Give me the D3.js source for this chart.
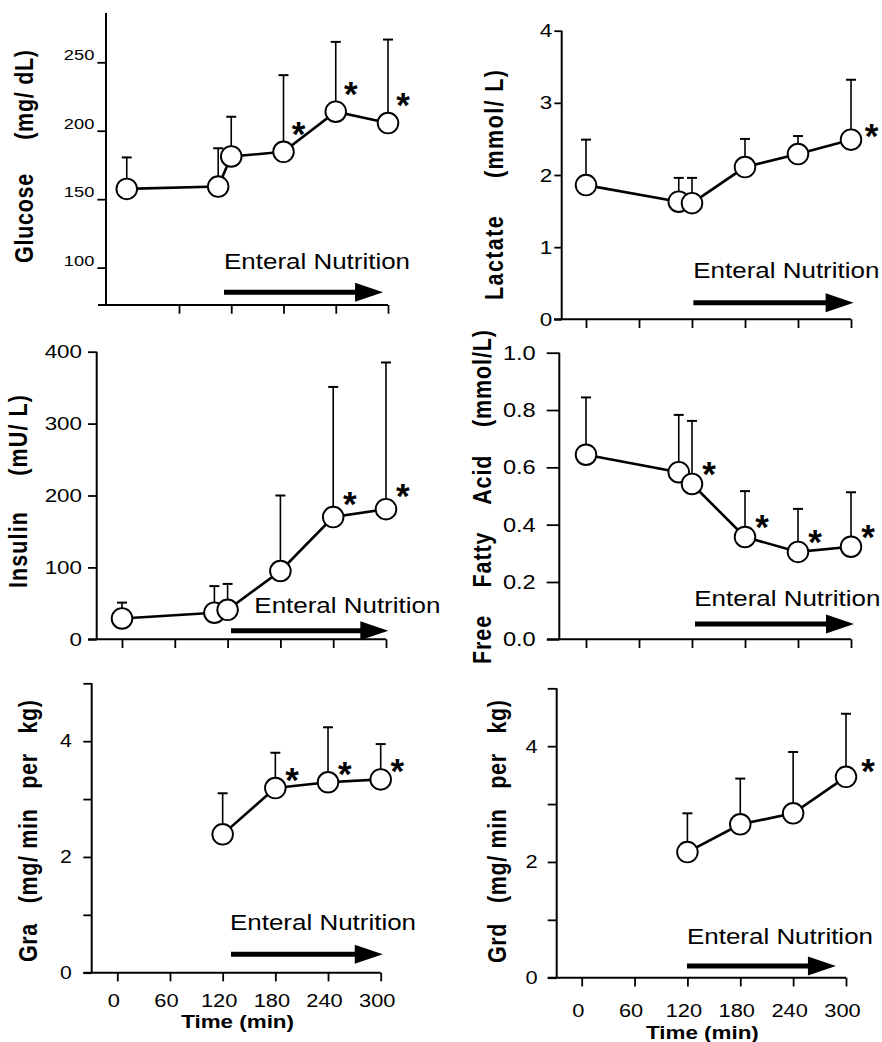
<!DOCTYPE html>
<html>
<head>
<meta charset="utf-8">
<script src="https://cdn.jsdelivr.net/npm/d3@7"></script>
<style>
  body { margin: 0; background: #fff; }
  svg { display: block; font-family: "Liberation Sans", Arial, Helvetica, sans-serif; }
</style>
</head>
<body>
<svg id="fig" width="882" height="1042"></svg>
<script>
// sampling times (min)
var timeFull = [0, 105, 120, 180, 240, 300];
var timeClamp = [120, 180, 240, 300];
var timeTicks = [0, 60, 120, 180, 240, 300];

// mean, upper SD, significance (1 = *)
var glucoseMean = [157.5, 159.2, 181.2, 184.6, 213.9, 205.6];
var glucoseSD   = [23, 28, 29, 56, 51, 61];
var glucoseSig  = [0, 0, 0, 1, 1, 1];

var lactateMean = [1.86, 1.63, 1.61, 2.11, 2.29, 2.49];
var lactateSD   = [0.63, 0.33, 0.35, 0.39, 0.25, 0.83];
var lactateSig  = [0, 0, 0, 0, 0, 1];

var insulinMean = [29, 37, 41, 95, 170, 181];
var insulinSD   = [22, 37, 36, 105, 181, 204];
var insulinSig  = [0, 0, 0, 0, 1, 1];

var ffaMean = [0.644, 0.583, 0.542, 0.357, 0.305, 0.323];
var ffaSD   = [0.20, 0.20, 0.22, 0.16, 0.15, 0.19];
var ffaSig  = [0, 0, 1, 1, 1, 1];

var graMean = [2.39, 3.19, 3.29, 3.34];
var graSD   = [0.71, 0.61, 0.95, 0.61];
var graSig  = [0, 1, 1, 1];

var grdMean = [2.17, 2.65, 2.84, 3.47];
var grdSD   = [0.67, 0.79, 1.06, 1.09];
var grdSig  = [0, 0, 0, 1];

var ARROW_TEXT = "Enteral Nutrition";
var TIME_TITLE = "Time (min)";

var panels = [
  { label: "Glucose     (mg/ dL)", t: timeFull, mean: glucoseMean, sd: glucoseSD, sig: glucoseSig,
    yDomain: [72.7, 286], yTicks: [100, 150, 200, 250], yFmt: d3.format("d"),
    xTicks: [60, 120, 180, 240, 300], showX: false },
  { label: "Lactate     (mmol/ L)", t: timeFull, mean: lactateMean, sd: lactateSD, sig: lactateSig,
    yDomain: [0, 4], yTicks: [0, 1, 2, 3, 4], yFmt: d3.format("d"),
    xTicks: timeTicks, showX: false },
  { label: "Insulin     (mU/ L)", t: timeFull, mean: insulinMean, sd: insulinSD, sig: insulinSig,
    yDomain: [0, 400], yTicks: [0, 100, 200, 300, 400], yFmt: d3.format("d"),
    xTicks: timeTicks, showX: false },
  { label: "Free    Fatty    Acid    (mmol/L)", t: timeFull, mean: ffaMean, sd: ffaSD, sig: ffaSig,
    yDomain: [0, 1], yTicks: [0, 0.2, 0.4, 0.6, 0.8, 1.0], yFmt: d3.format(".1f"),
    xTicks: timeTicks, showX: false },
  { label: "Gra   (mg/ min   per   kg)", t: timeClamp, mean: graMean, sd: graSD, sig: graSig,
    yDomain: [0, 5], yTicks: [0, 1, 2, 3, 4, 5], yFmt: function(d) { return d % 2 === 0 ? d : ""; },
    xTicks: timeTicks, showX: true },
  { label: "Grd   (mg/ min   per   kg)", t: timeClamp, mean: grdMean, sd: grdSD, sig: grdSig,
    yDomain: [0, 5], yTicks: [0, 1, 2, 3, 4, 5], yFmt: function(d) { return d % 2 === 0 ? d : ""; },
    xTicks: timeTicks, showX: true }
];

// page layout of each panel
var layout = [
  { x0: 126.75, x300: 388, axisX: 106, lineStart: 98, yBottom: 305, yTop: 13,
    tickLen: 8.7, tickPad: 3, tickFont: 15.5, tickDy: -2.5,
    labelX: 33, labelCY: 156.5, labelLen: 213,
    arrowT: [111.7, 294.3], arrowLift: 12.7, textLift: 23.3, textDx: 0, starDx: 15, starDy: -26 },
  { x0: 586, x300: 851, axisX: 561.7, lineStart: 554, yBottom: 319.3, yTop: 30.7,
    tickLen: 7.4, tickPad: 2, tickFont: 19, tickDy: null,
    labelX: 502.7, labelCY: 185, labelLen: 230,
    arrowT: [121.5, 303], arrowLift: 16.6, textLift: 24.4, textDx: 0, starDx: 20.6, starDy: -12 },
  { x0: 122, x300: 386, axisX: 96.7, lineStart: 88, yBottom: 639.3, yTop: 351.7,
    tickLen: 8.7, tickPad: 6, tickFont: 19, tickDy: null,
    labelX: 26.7, labelCY: 491.5, labelLen: 193,
    arrowT: [123.9, 302.6], arrowLift: 8.6, textLift: 17.4, textDx: 23.3, starDx: 16.7, starDy: -21 },
  { x0: 586, x300: 851, axisX: 559.3, lineStart: 547, yBottom: 639.3, yTop: 352.7,
    tickLen: 12.6, tickPad: 11, tickFont: 20, tickDy: null,
    labelX: 491, labelCY: 497, labelLen: 334,
    arrowT: [123.4, 303.4], arrowLift: 15.3, textLift: 18, textDx: -0.7, starDx: 17, starDy: -18 },
  { x0: 117.3, x300: 380.7, axisX: 91.7, lineStart: 83.3, yBottom: 972.7, yTop: 683.3,
    tickLen: 8.4, tickPad: 11.6, tickFont: 18, tickDy: null,
    labelX: 37.3, labelCY: 831, labelLen: 262,
    arrowT: [129.5, 302.3], arrowLift: 18.4, textLift: 24.3, textDx: -1, starDx: 16.7, starDy: -16,
    xLabelBase: 34, timeBase: 55.3 },
  { x0: 581.7, x300: 846, axisX: 556.7, lineStart: 547.7, yBottom: 977.7, yTop: 688.3,
    tickLen: 9, tickPad: 10, tickFont: 18.5, tickDy: null,
    labelX: 506, labelCY: 831.5, labelLen: 263,
    arrowT: [119.5, 288.6], arrowLift: 11.7, textLift: 22, textDx: 0, starDx: 22, starDy: -14,
    xLabelBase: 39, timeBase: 61.3 }
];

var STRETCH = 1.18;
var FONT = '"Liberation Sans", Arial, Helvetica, sans-serif';
var svg = d3.select("#fig");

// the scanned figure is wider than tall: stretch text sideways round its anchor
function stretchAt(sel) {
  sel.attr("transform", function() {
    var x = +d3.select(this).attr("x") || 0;
    return "translate(" + x + ",0) scale(" + STRETCH + ",1) translate(" + (-x) + ",0)";
  });
}

function drawPanel(p, L) {
  var x = d3.scaleLinear().domain([0, 300]).range([L.x0, L.x300]);
  var y = d3.scaleLinear().domain(p.yDomain).range([L.yBottom, L.yTop]);
  var g = svg.append("g");

  // y axis
  var ya = g.append("g")
    .attr("transform", "translate(" + L.axisX + ",0)")
    .call(d3.axisLeft(y).tickValues(p.yTicks).tickFormat(p.yFmt)
      .tickSize(L.tickLen).tickPadding(L.tickPad));
  ya.attr("font-family", FONT).attr("font-size", L.tickFont);
  ya.select(".domain").remove();
  ya.selectAll("line").attr("stroke", "#000").attr("stroke-width", 1.8);
  ya.selectAll("text").attr("fill", "#000");
  if (L.tickDy !== null) ya.selectAll("text").attr("dy", L.tickDy);
  stretchAt(ya.selectAll("text"));

  g.append("line")
    .attr("x1", L.axisX).attr("x2", L.axisX)
    .attr("y1", y(p.yDomain[1])).attr("y2", y(p.yDomain[0]))
    .attr("stroke", "#000").attr("stroke-width", 2);

  // x axis
  var xa = g.append("g")
    .attr("transform", "translate(0," + L.yBottom + ")")
    .call(d3.axisBottom(x).tickValues(p.xTicks).tickSize(8.7)
      .tickFormat(p.showX ? d3.format("d") : function() { return ""; }));
  xa.attr("font-family", FONT).attr("font-size", 18.5);
  xa.select(".domain").remove();
  xa.selectAll("line").attr("stroke", "#000").attr("stroke-width", 1.8);
  if (p.showX) {
    xa.selectAll("text")
      .attr("fill", "#000").attr("y", L.xLabelBase).attr("dy", 0)
      .attr("x", -4);
    stretchAt(xa.selectAll("text"));
  }

  g.append("line")
    .attr("x1", L.lineStart).attr("x2", x(300))
    .attr("y1", L.yBottom).attr("y2", L.yBottom)
    .attr("stroke", "#000").attr("stroke-width", 2);

  var pts = p.t.map(function(t, i) {
    return { t: t, m: p.mean[i], sd: p.sd[i], sig: p.sig[i] };
  });

  // error bars (upper only)
  var eb = g.append("g").attr("stroke", "#000");
  eb.selectAll("line.v").data(pts).enter().append("line")
    .attr("class", "v")
    .attr("x1", function(d) { return x(d.t); }).attr("x2", function(d) { return x(d.t); })
    .attr("y1", function(d) { return y(d.m); }).attr("y2", function(d) { return y(d.m + d.sd); })
    .attr("stroke-width", 1.6);
  eb.selectAll("line.c").data(pts).enter().append("line")
    .attr("class", "c")
    .attr("x1", function(d) { return x(d.t) - 5; }).attr("x2", function(d) { return x(d.t) + 5; })
    .attr("y1", function(d) { return y(d.m + d.sd); }).attr("y2", function(d) { return y(d.m + d.sd); })
    .attr("stroke-width", 2);

  // mean line
  var line = d3.line()
    .x(function(d) { return x(d.t); })
    .y(function(d) { return y(d.m); });
  g.append("path").datum(pts)
    .attr("d", line).attr("fill", "none")
    .attr("stroke", "#000").attr("stroke-width", 2.6);

  g.selectAll("circle").data(pts).enter().append("circle")
    .attr("cx", function(d) { return x(d.t); })
    .attr("cy", function(d) { return y(d.m); })
    .attr("r", 10.3)
    .attr("fill", "#fff").attr("stroke", "#000").attr("stroke-width", 1.9);

  // significance stars
  g.selectAll("text.star").data(pts.filter(function(d) { return d.sig; })).enter()
    .append("text").attr("class", "star")
    .attr("x", function(d) { return x(d.t) + L.starDx; })
    .attr("y", function(d) { return y(d.m) + L.starDy; })
    .attr("dy", "0.57em")
    .attr("text-anchor", "middle")
    .attr("font-size", 35).attr("font-weight", "bold")
    .text("*");

  // enteral nutrition arrow
  var ay = L.yBottom - L.arrowLift;
  var ax0 = x(L.arrowT[0]), ax1 = x(L.arrowT[1]);
  g.append("line")
    .attr("x1", ax0).attr("x2", ax1 - 20)
    .attr("y1", ay).attr("y2", ay)
    .attr("stroke", "#000").attr("stroke-width", 5);
  g.append("path")
    .attr("d", "M" + (ax1 - 28) + "," + (ay - 9.5) + "L" + ax1 + "," + ay + "L" + (ax1 - 28) + "," + (ay + 9.5) + "Z")
    .attr("fill", "#000");
  var et = g.append("text")
    .attr("x", ax0 + L.textDx).attr("y", ay - L.textLift)
    .attr("font-size", 22).attr("fill", "#000")
    .text(ARROW_TEXT);
  stretchAt(et);

  // y axis title
  g.append("text")
    .attr("transform", "translate(" + L.labelX + "," + L.labelCY + ") rotate(-90) scale(1," + STRETCH + ")")
    .attr("text-anchor", "middle")
    .attr("font-size", 21.5).attr("font-weight", "bold")
    .attr("textLength", L.labelLen).attr("lengthAdjust", "spacing")
    .style("white-space", "pre")
    .text(p.label);

  if (p.showX) {
    var tt = g.append("text")
      .attr("x", x(137)).attr("y", L.yBottom + L.timeBase)
      .attr("text-anchor", "middle")
      .attr("font-size", 19).attr("font-weight", "bold")
      .text(TIME_TITLE);
    stretchAt(tt);
  }
}

panels.forEach(function(p, i) { drawPanel(p, layout[i]); });
</script>
</body>
</html>
